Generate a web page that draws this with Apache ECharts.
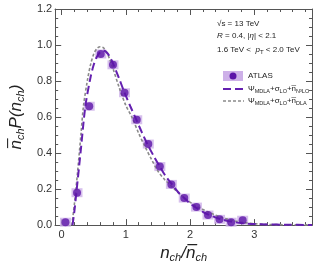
<!DOCTYPE html>
<html><head><meta charset="utf-8">
<script src="https://cdn.jsdelivr.net/npm/echarts@6/dist/echarts.min.js"></script>
<style>html,body{margin:0;padding:0;background:#fff}#c{width:327px;height:268px}</style>
</head><body><div id="c"></div>
<script>
// ATLAS data
const dataX = [0.06,0.24,0.43,0.61,0.80,0.98,1.17,1.35,1.53,1.71,1.91,2.10,2.28,2.46,2.64,2.82];
const dataY = [0.016,0.18,0.66,0.95,0.89,0.735,0.585,0.45,0.325,0.226,0.15,0.10,0.056,0.032,0.016,0.027];
// Psi_MDLA + sigma_LO + nbar_N3LO (purple dashed)
const n3loX = [0.17,0.20,0.23,0.30,0.37,0.45,0.50,0.55,0.60,0.65,0.70,0.75,0.81,0.90,0.98,1.07,1.16,1.25,1.34,1.44,1.53,1.62,1.72,1.81,1.91,2.00,2.10,2.20,2.30,2.40,2.50,2.60,2.70,2.80,3.00,3.20,3.50,3.90];
const n3loY = [0.0,0.08,0.18,0.42,0.66,0.82,0.89,0.935,0.96,0.97,0.96,0.935,0.89,0.81,0.735,0.66,0.588,0.515,0.447,0.38,0.325,0.272,0.226,0.185,0.15,0.12,0.096,0.074,0.056,0.042,0.031,0.022,0.016,0.011,0.006,0.004,0.002,0.001];
// Psi_MDLA + sigma_LO + nbar_DLA (grey dotted)
const dlaX = [0.16,0.20,0.25,0.30,0.34,0.40,0.45,0.50,0.55,0.60,0.65,0.70,0.75,0.80,0.90,1.00,1.10,1.20,1.30,1.40,1.50,1.60,1.70,1.80,1.90,2.00,2.10,2.20,2.30,2.40,2.50,2.60,2.70,2.80,3.00,3.20,3.50,3.90];
const dlaY = [0.0,0.12,0.30,0.50,0.66,0.80,0.89,0.95,0.98,0.99,0.985,0.96,0.92,0.87,0.76,0.665,0.595,0.51,0.435,0.365,0.30,0.255,0.22,0.185,0.155,0.128,0.105,0.087,0.07,0.055,0.042,0.032,0.023,0.016,0.008,0.004,0.002,0.001];
const xMajor = [0,1,2,3];
const xMinor = [0.2,0.4,0.6,0.8,1.2,1.4,1.6,1.8,2.2,2.4,2.6,2.8,3.2,3.4,3.6,3.8];

const pair = (xs, ys) => xs.map((x,i)=>[x, ys[i]]);
const axisCol = '#555';
const font = 'Liberation Sans';
const chart = echarts.init(document.getElementById('c'));
const xBase = (pos, ticks, len, extra) => Object.assign({
  type:'value', min:-0.1, max:3.9, position:pos,
  axisLine:{show:true, onZero:false, lineStyle:{color:axisCol, width:1}},
  axisTick:{show:true, inside:true, length:len, customValues:ticks, lineStyle:{color:axisCol}},
  axisLabel:{show:false}, splitLine:{show:false}
}, extra||{});
const yBase = (pos, extra) => Object.assign({
  type:'value', min:0, max:1.2, interval:0.2, position:pos,
  axisLine:{show:true, onZero:false, lineStyle:{color:axisCol, width:1}},
  axisTick:{show:true, inside:true, length:6, lineStyle:{color:axisCol}},
  minorTick:{show:true, splitNumber:4, length:3, lineStyle:{color:axisCol}},
  axisLabel:{show:false}, splitLine:{show:false}
}, extra||{});

chart.setOption({
  backgroundColor:'#fff',
  animation:false,
  grid:{left:50, right:15, top:9, bottom:36},
  xAxis:[
    xBase('bottom', xMajor, 6, {
      axisLabel:{show:true, customValues:xMajor, margin:4, color:'#333', fontSize:11, fontFamily:font},
      name:'{i|n}{s|ch}{i|/n̅}{s|ch}', nameLocation:'middle', nameGap:18,
      nameTextStyle:{rich:{
        i:{fontSize:17, fontStyle:'italic', fontFamily:font, color:'#222'},
        s:{fontSize:11, fontStyle:'italic', fontFamily:font, color:'#222', verticalAlign:'bottom', padding:[8,0,0,0]}
      }}
    }),
    xBase('bottom', xMinor, 3),
    xBase('top', xMajor, 6),
    xBase('top', xMinor, 3)
  ],
  yAxis:[
    yBase('left', {
      axisLabel:{show:true, margin:3, color:'#333', fontSize:11, fontFamily:font, formatter:v=>v.toFixed(1)},
      name:'{i|n̅}{s|ch}{i|P(n}{s|ch}{i|)}', nameLocation:'middle', nameGap:27,
      nameTextStyle:{rich:{
        i:{fontSize:17, fontStyle:'italic', fontFamily:font, color:'#222'},
        s:{fontSize:11, fontStyle:'italic', fontFamily:font, color:'#222', verticalAlign:'bottom', padding:[8,0,0,0]}
      }}
    }),
    yBase('right')
  ],
  series:[
    {type:'scatter', xAxisIndex:0, yAxisIndex:0, data:pair(dataX,dataY), symbol:'rect', symbolSize:[11,9],
     itemStyle:{color:'#cdb0e8'}, z:1, silent:true},
    {type:'line', xAxisIndex:0, yAxisIndex:0, data:pair(dlaX,dlaY), smooth:0.3, showSymbol:false,
     lineStyle:{color:'#8a8a8a', width:1.6, type:[3,2]}, z:2},
    {type:'line', xAxisIndex:0, yAxisIndex:0, data:pair(n3loX,n3loY), smooth:0.3, showSymbol:false,
     lineStyle:{color:'#6420b0', width:2, type:[8,4]}, z:3},
    {type:'scatter', xAxisIndex:0, yAxisIndex:0, data:pair(dataX,dataY), symbol:'circle', symbolSize:8,
     itemStyle:{color:'#5c14a8'}, z:4}
  ],
  graphic:[
    {type:'text', x:217, y:20, style:{text:'√s = 13 TeV', font:'8px '+font, fill:'#222'}},
    {type:'text', x:217, y:32, style:{text:'{i|R} = 0.4, |{i|η}| < 2.1', font:'8px '+font, fill:'#222',
      rich:{i:{fontStyle:'italic', fontSize:8, fontFamily:font}}}},
    {type:'text', x:217, y:45, style:{text:'1.6 TeV <  {i|p}{s|T} < 2.0 TeV', font:'8px '+font, fill:'#222',
      rich:{i:{fontStyle:'italic', fontSize:8, fontFamily:font}, s:{fontSize:6, fontFamily:font, verticalAlign:'bottom', padding:[4,0,0,0]}}}},
    {type:'rect', shape:{x:223, y:71, width:20, height:10}, style:{fill:'#cdb0e8'}},
    {type:'circle', shape:{cx:233, cy:76, r:3.5}, style:{fill:'#5c14a8'}},
    {type:'text', x:248, y:72, style:{text:'ATLAS', font:'8px '+font, fill:'#222'}},
    {type:'line', shape:{x1:223, y1:89, x2:244, y2:89}, style:{stroke:'#6420b0', lineWidth:2, lineDash:[8,4]}},
    {type:'text', x:248, y:84, style:{text:'Ψ{s|MDLA}+σ{s|LO}+n̅{s|N³LO}', font:'8px '+font, fill:'#222',
      rich:{s:{fontSize:5.5, fontFamily:font, verticalAlign:'bottom', padding:[4,0,0,0]}}}},
    {type:'line', shape:{x1:223, y1:101, x2:244, y2:101}, style:{stroke:'#8a8a8a', lineWidth:1.5, lineDash:[3,2]}},
    {type:'text', x:248, y:96, style:{text:'Ψ{s|MDLA}+σ{s|LO}+n̅{s|DLA}', font:'8px '+font, fill:'#222',
      rich:{s:{fontSize:5.5, fontFamily:font, verticalAlign:'bottom', padding:[4,0,0,0]}}}}
  ]
});
</script></body></html>
